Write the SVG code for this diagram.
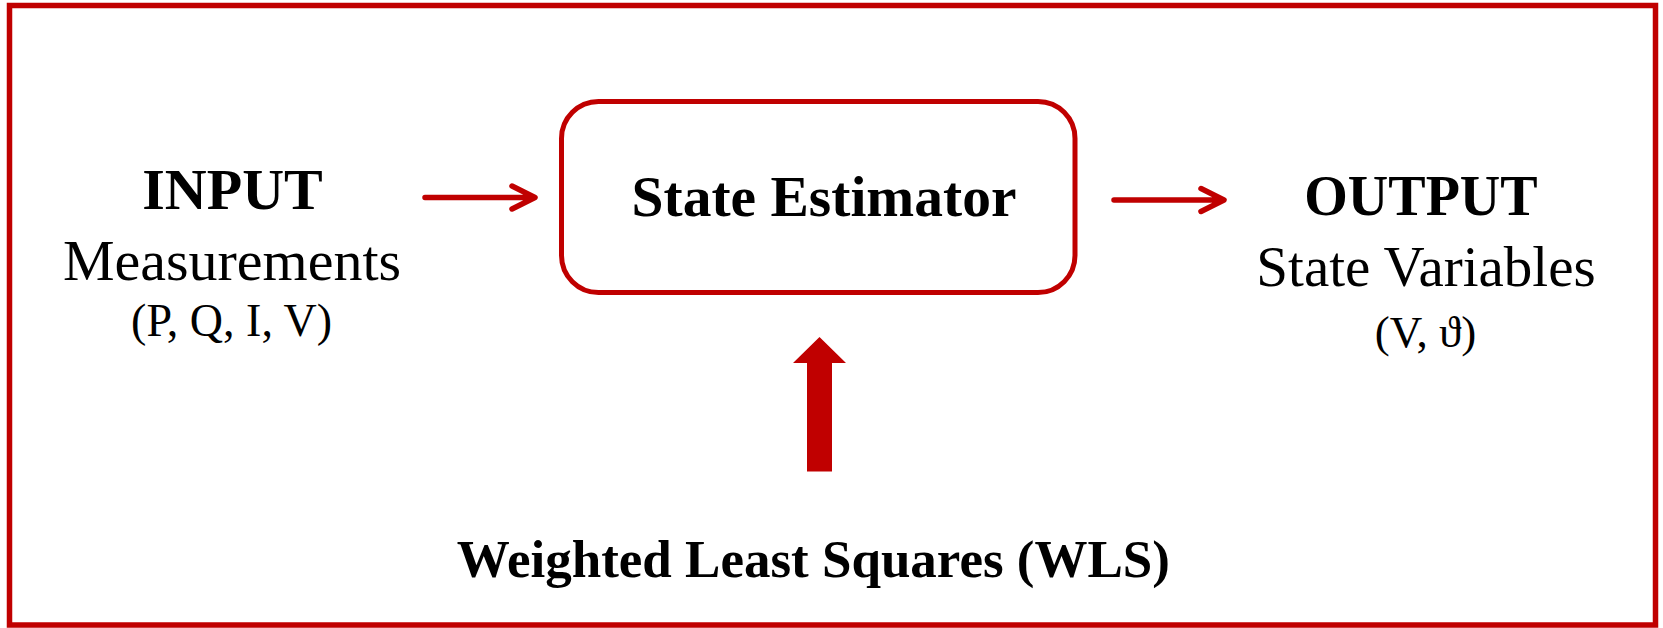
<svg xmlns="http://www.w3.org/2000/svg" width="1663" height="628" viewBox="0 0 1663 628">
<defs>
<style>
text{font-family:"Liberation Serif","Times New Roman","DejaVu Serif",serif;fill:#000;text-anchor:middle}
.b{font-weight:bold}
.ln{stroke:#C00000;stroke-width:5.5;fill:none;stroke-linecap:round;stroke-linejoin:round}
</style>
</defs>
<rect id="frame" x="9.5" y="5.5" width="1646" height="619.5" fill="#fff" stroke="#C00000" stroke-width="5.5"/>
<g id="input">
<text class="b" x="232.5" y="209" font-size="58">INPUT</text>
<text x="232" y="280" font-size="58">Measurements</text>
<text x="231.6" y="336" font-size="46">(P, Q, I, V)</text>
</g>
<g id="estimator">
<rect x="561.5" y="101.5" width="513.5" height="191" rx="37" ry="37" fill="#fff" stroke="#C00000" stroke-width="5"/>
<text class="b" x="824" y="216" font-size="57.5">State Estimator</text>
</g>
<g id="output">
<text class="b" x="1421" y="215" font-size="56">OUTPUT</text>
<text x="1426" y="286" font-size="57">State Variables</text>
<text x="1425.5" y="347" font-size="45">(V, ϑ)</text>
</g>
<g id="wls">
<text class="b" x="813.4" y="577" font-size="53">Weighted Least Squares (WLS)</text>
</g>
<g id="connectors">
<path class="ln" d="M425 197.5 H534 M512 186 L535 197.5 L512 209"/>
<path class="ln" d="M1114 200 H1223 M1201 188.5 L1224 200 L1201 211.5"/>
<polygon points="807,471.5 832,471.5 832,363 846,363 819.5,337 793,363 807,363" fill="#C00000"/>
</g>
</svg>
